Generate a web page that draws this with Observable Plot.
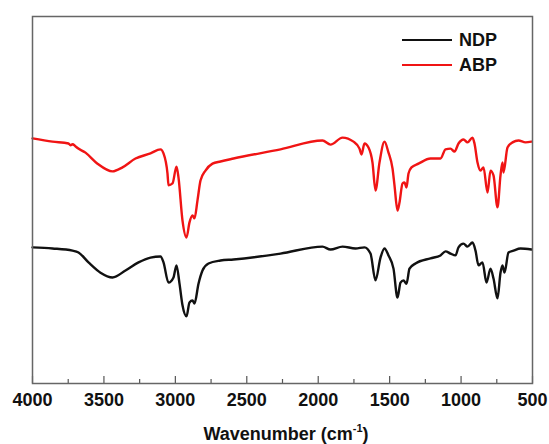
<!DOCTYPE html>
<html>
<head>
<meta charset="utf-8">
<script src="https://cdn.jsdelivr.net/npm/d3@7"></script>
<script src="https://cdn.jsdelivr.net/npm/@observablehq/plot@0.6"></script>
<style>
  html, body { margin: 0; padding: 0; background: #fff; }
  #chart { width: 549px; height: 444px; }
  svg { font-family: "Liberation Sans", Arial, sans-serif; }
</style>
</head>
<body>
<div id="chart"></div>
<script>
// Series names and colours
const seriesNames = ["NDP", "ABP"];
const seriesColors = ["#111111", "#f01414"];

// X tick labels (wavenumber, cm-1)
const majorTicks = [4000, 3500, 3000, 2500, 2000, 1500, 1000, 500];
const minorTicks = [3750, 3250, 2750, 2250, 1750, 1250, 750];

// ABP (red) spectrum: wavenumber and transmittance (a.u.)
const abpWavenumber = [4000, 3860, 3748, 3734, 3720, 3706, 3699, 3629, 3545, 3440, 3370, 3279, 3174, 3104, 3083, 3055, 3048, 3020, 2992, 2978, 2950, 2922, 2901, 2880, 2866, 2845, 2824, 2789, 2740, 2684, 2593, 2264, 1970, 1914, 1830, 1753, 1711, 1697, 1676, 1648, 1620, 1599, 1571, 1536, 1508, 1480, 1466, 1445, 1431, 1410, 1396, 1382, 1368, 1347, 1298, 1214, 1144, 1109, 1074, 1046, 1018, 983, 955, 920, 906, 885, 864, 843, 815, 794, 773, 745, 724, 710, 703, 675, 640, 598, 549, 507];
const abpValue = [66.8, 65.9, 65.4, 64.9, 65.2, 64.9, 64.6, 62.9, 59.9, 57.8, 58.9, 61.3, 62.7, 63.8, 62.7, 57.2, 54.0, 54.5, 59.1, 56.1, 44.4, 39.8, 43.9, 45.8, 45.0, 49.9, 55.3, 58.0, 59.9, 60.5, 61.3, 63.8, 66.2, 65.1, 67.0, 65.9, 64.0, 62.4, 65.4, 64.3, 60.2, 52.6, 60.2, 65.9, 62.9, 58.6, 54.0, 47.1, 49.3, 54.5, 54.8, 53.4, 57.2, 58.9, 59.9, 61.3, 61.3, 63.8, 64.0, 63.2, 65.4, 66.5, 65.7, 67.0, 65.4, 60.2, 58.0, 58.9, 52.0, 58.0, 56.7, 48.0, 56.7, 60.2, 57.5, 64.3, 65.7, 66.2, 65.7, 65.9];

// NDP (black) spectrum: wavenumber and transmittance (a.u.)
const ndpWavenumber = [4000, 3860, 3720, 3678, 3608, 3524, 3440, 3349, 3258, 3174, 3104, 3083, 3048, 3013, 2992, 2971, 2950, 2922, 2901, 2880, 2866, 2838, 2810, 2768, 2684, 2593, 2264, 1970, 1914, 1830, 1739, 1676, 1634, 1599, 1564, 1536, 1508, 1473, 1445, 1424, 1403, 1382, 1361, 1319, 1214, 1144, 1109, 1074, 1039, 1018, 983, 955, 920, 899, 878, 850, 822, 794, 773, 745, 724, 710, 696, 668, 633, 584, 507];
const ndpValue = [37.1, 36.8, 36.2, 35.7, 33.0, 30.2, 28.9, 30.8, 33.0, 34.3, 34.6, 33.0, 27.5, 28.9, 32.2, 27.2, 21.3, 18.3, 22.1, 22.6, 21.8, 27.2, 30.8, 32.7, 33.5, 33.8, 35.4, 37.3, 36.5, 37.3, 36.8, 37.1, 35.4, 28.1, 34.3, 36.8, 34.9, 31.3, 23.4, 27.5, 28.1, 27.2, 31.3, 32.7, 34.1, 34.9, 36.0, 35.4, 34.9, 37.1, 38.1, 37.3, 38.4, 36.2, 32.2, 33.0, 27.5, 31.3, 28.6, 23.2, 30.2, 32.2, 30.2, 35.7, 36.2, 36.8, 36.5];

const ndp = ndpWavenumber.map((w, i) => ({w, t: ndpValue[i]}));
const abp = abpWavenumber.map((w, i) => ({w, t: abpValue[i]}));

const W = 549, H = 444;
const mTop = 16, mBottom = 61, mLeft = 32, mRight = 17;
const innerH = H - mTop - mBottom;

const chart = Plot.plot({
  width: W,
  height: H,
  marginTop: mTop,
  marginBottom: mBottom,
  marginLeft: mLeft,
  marginRight: mRight,
  style: {fontFamily: "Liberation Sans, Arial, sans-serif", background: "#fff"},
  x: {domain: [4000, 500], ticks: majorTicks, label: null},
  y: {domain: [0, 100], axis: null},
  marks: [
    Plot.ruleX(majorTicks, {x: d => d, insetTop: innerH - 7, stroke: "#555", strokeWidth: 1.2}),
    Plot.ruleX(minorTicks, {x: d => d, insetTop: innerH - 4, stroke: "#555", strokeWidth: 1.2}),
    Plot.axisX({ticks: majorTicks, tickSize: 0, tickPadding: 10, fontSize: 18, fontWeight: "bold", tickFormat: d => String(d), label: null, fill: "#111"}),
    Plot.line(ndp, {x: "w", y: "t", stroke: seriesColors[0], strokeWidth: 2.4, curve: "monotone-x"}),
    Plot.line(abp, {x: "w", y: "t", stroke: seriesColors[1], strokeWidth: 2.4, curve: "monotone-x"}),
    Plot.frame({stroke: "#666", strokeWidth: 1.5})
  ]
});

const svg = d3.select(chart);

// Legend
const legendY = [40, 65];
seriesNames.forEach((name, i) => {
  svg.append("line")
    .attr("x1", 402).attr("x2", 452)
    .attr("y1", legendY[i]).attr("y2", legendY[i])
    .attr("stroke", seriesColors[i]).attr("stroke-width", 2);
  svg.append("text")
    .attr("x", 459).attr("y", legendY[i])
    .attr("dy", "0.36em")
    .attr("text-anchor", "start")
    .attr("font-size", 18).attr("font-weight", "bold")
    .attr("fill", "#111")
    .text(name);
});

// Axis title with superscript
const title = svg.append("text")
  .attr("x", 286).attr("y", 440)
  .attr("text-anchor", "middle")
  .attr("font-size", 18).attr("font-weight", "bold")
  .attr("fill", "#111");
title.append("tspan").text("Wavenumber (cm");
title.append("tspan").attr("font-size", 11).attr("dy", "-8").text("-1");
title.append("tspan").attr("dy", "8").text(")");

document.getElementById("chart").appendChild(chart);
</script>
</body>
</html>
